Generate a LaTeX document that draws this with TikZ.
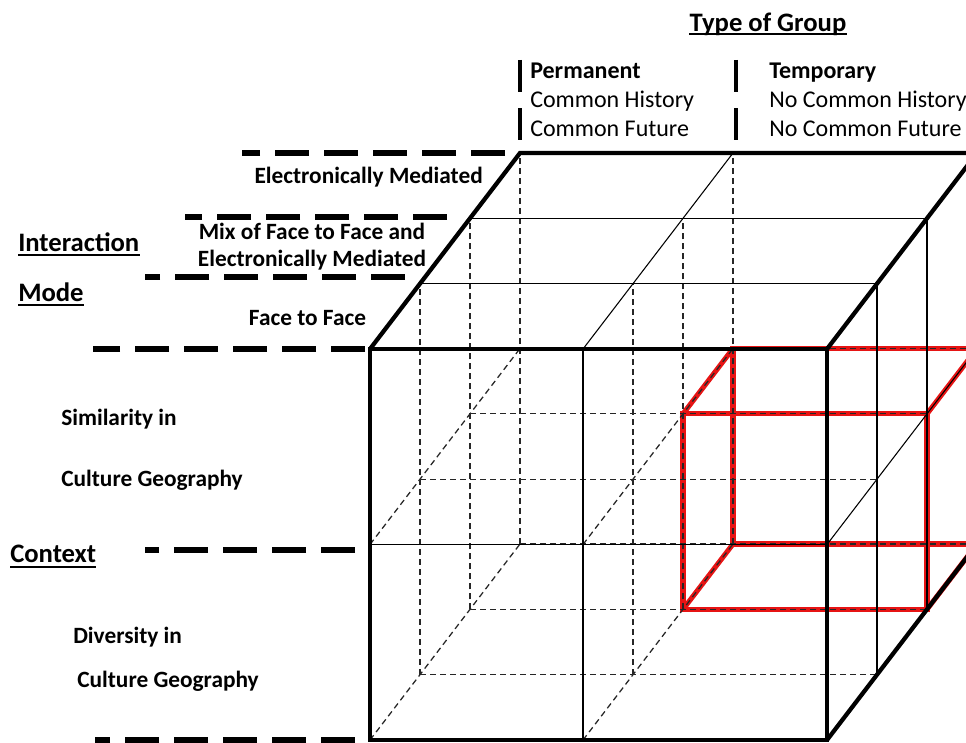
\documentclass[tikz,border=0pt]{standalone}
\usepackage{fontspec}
\setmainfont{Carlito}
\usepackage{xcolor}
\usetikzlibrary{positioning}

\definecolor{cellred}{RGB}{230,20,20}

% split points of the cube (pixels)
\def\xm{213}
\def\xr{457}
\def\ym{195.5}
\def\yt{391}

\begin{document}
\begin{tikzpicture}[x=0.75pt, y=-0.75pt,
    outeredge/.style={line width=3.2pt},
    gridline/.style={line width=0.8pt},
    hiddenline/.style={line width=0.95pt, black!85, dash pattern=on 4.5pt off 3pt},
    redcell/.style={line width=3.8pt, draw=cellred},
    modeline/.style={line width=3.8pt, dash pattern=on 25.5pt off 11.25pt},
    colbar/.style={line width=3pt, dash pattern=on 24pt off 12pt},
    underl/.style={line width=1.4pt},
    heading/.style={font=\fontsize{20}{24}\selectfont\bfseries, inner sep=0pt},
    levellabel/.style={font=\fontsize{17.5}{20.25}\selectfont\bfseries, inner sep=0pt, align=center},
    coltext/.style={font=\fontsize{18}{21.75}\selectfont, inner sep=0pt, align=left}]

    \useasboundingbox (0,0) rectangle (966,742);
    \clip (0,0) rectangle (966,742);

    % Cube: x across, y up, z into the page
    \begin{scope}[shift={(370,740)}, x=0.75pt, y=0.75pt, z={(37.5pt,49pt)}]

        % Highlighted cell (Temporary, lower half, back slab)
        \foreach \z in {2,3}
            \draw[redcell] (\xm,0,\z) rectangle (\xr,\ym,\z);
        \foreach \x/\y in {\xm/0, \xr/0, \xm/\ym, \xr/\ym}
            \draw[redcell] (\x,\y,2) -- (\x,\y,3);

        % Hidden grid lines
        \foreach \z in {1,2,3} {
            \foreach \x in {0,\xm}
                \draw[hiddenline] (\x,0,\z) -- (\x,\yt,\z);
            \foreach \y in {0,\ym}
                \draw[hiddenline] (0,\y,\z) -- (\xr,\y,\z);
        }
        \foreach \x in {0,\xm}
            \foreach \y in {0,\ym}
                \draw[hiddenline] (\x,\y,0) -- (\x,\y,3);

        % Front face
        \draw[gridline] (\xm,0,0) -- (\xm,\yt,0);
        \draw[gridline] (0,\ym,0) -- (\xr,\ym,0);

        % Top face
        \foreach \z in {1,2}
            \draw[gridline] (0,\yt,\z) -- (\xr,\yt,\z);
        \draw[gridline] (\xm,\yt,0) -- (\xm,\yt,3);

        % Right face
        \foreach \z in {1,2}
            \draw[gridline] (\xr,0,\z) -- (\xr,\yt,\z);
        \draw[gridline] (\xr,\ym,0) -- (\xr,\ym,3);

        % Outline
        \draw[outeredge] (0,0,0) rectangle (\xr,\yt,0);
        \draw[outeredge] (0,\yt,0) -- (0,\yt,3) -- (\xr,\yt,3) -- (\xr,\yt,0);
        \draw[outeredge] (\xr,\yt,3) -- (\xr,0,3) -- (\xr,0,0);

    \end{scope}

    % Type of group
    \node[heading, anchor=base] (grouptype) at (768,32) {Type of Group};
    \draw[underl] ([yshift=-1.8pt]grouptype.base west) -- ([yshift=-1.8pt]grouptype.base east);

    \draw[colbar] (520,60) -- (520,142);
    \draw[colbar] (736,60) -- (736,142);

    \node[coltext, anchor=base west] (permanent) at (530,136) {\textbf{Permanent}\\Common History\\Common Future};
    \node[coltext, anchor=base west] (temporary) at (769,136) {\textbf{Temporary}\\No Common History\\No Common Future};

    % Interaction mode
    \draw[modeline] (505,153) -- (242,153);
    \draw[modeline] (447,217) -- (185,217);
    \draw[modeline] (405,277) -- (145,277);
    \draw[modeline] (365,349) -- (93,349);

    \node[levellabel, anchor=base east] (elec) at (483,183) {Electronically Mediated};
    \node[levellabel, anchor=base] (mix) at (312,266) {Mix of Face to Face and\\Electronically Mediated};
    \node[levellabel, anchor=base] (facetoface) at (307.5,325) {Face to Face};

    \node[heading, anchor=base west] (interaction) at (18,251) {Interaction};
    \draw[underl] ([yshift=-3pt]interaction.base west) -- ([yshift=-3pt]interaction.base east);
    \node[heading, anchor=base west] (mode) at (18,301) {Mode};
    \draw[underl] ([yshift=-3pt]mode.base west) -- ([yshift=-3pt]mode.base east);

    % Context
    \draw[modeline] (355,550) -- (145,550);
    \draw[modeline] (355,740) -- (95,740);

    \node[levellabel, anchor=base west] (similar) at (61,425) {Similarity in};
    \node[levellabel, anchor=base west] (simgeo) at (61,486) {Culture Geography};
    \node[heading, anchor=base west] (context) at (10,562) {Context};
    \draw[underl] ([yshift=-3.5pt]context.base west) -- ([yshift=-3.5pt]context.base east);
    \node[levellabel, anchor=base west] (diverse) at (73,643) {Diversity in};
    \node[levellabel, anchor=base west] (divgeo) at (77,687) {Culture Geography};

\end{tikzpicture}
\end{document}
